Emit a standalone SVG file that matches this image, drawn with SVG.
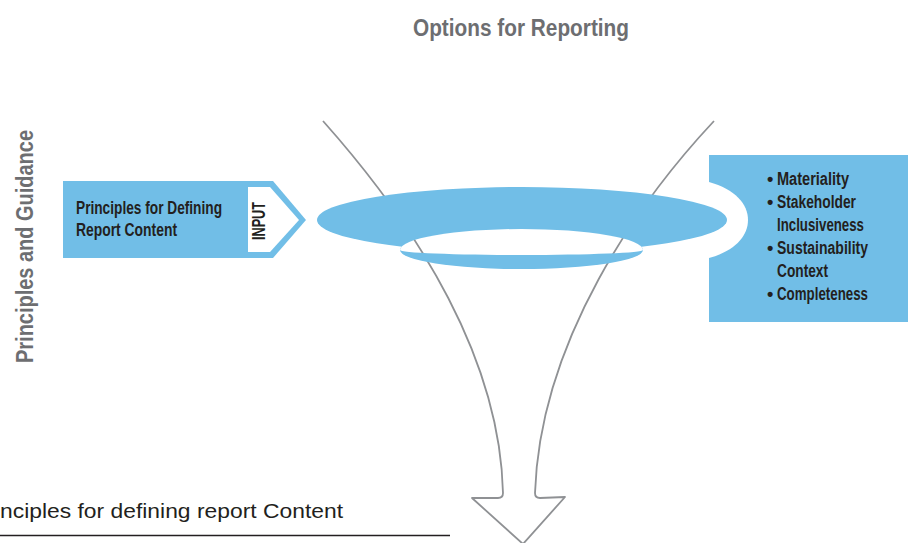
<svg xmlns="http://www.w3.org/2000/svg" width="908" height="543" viewBox="0 0 908 543">
<style>
.b{font-family:"Liberation Sans Narrow","Liberation Sans",Arial,sans-serif;font-weight:bold;fill:#231f20;font-size:18px}
.g{font-family:"Liberation Sans Narrow","Liberation Sans",Arial,sans-serif;font-weight:bold;fill:#6d6e71}
.r{font-family:"Liberation Sans",Arial,sans-serif;fill:#231f20;font-size:21px}
.blue{fill:#71bee7}
.ln{fill:none;stroke:#8f9194;stroke-width:1.8;stroke-linejoin:round}
</style>
<defs>
<mask id="hole" maskUnits="userSpaceOnUse" x="0" y="0" width="908" height="543">
<rect x="0" y="0" width="908" height="543" fill="#fff"/>
<path d="M400,250 A121.5,21 0 0 1 643,250 A121.5,5 0 0 1 400,250 Z" fill="#000"/>
</mask>
</defs>
<rect width="908" height="543" fill="#fff"/>

<g id="title">
<text class="g" x="413" y="36" font-size="24" textLength="216" lengthAdjust="spacingAndGlyphs">Options for Reporting</text>
</g>
<g id="side-label">
<text class="g" transform="translate(33,246.5) rotate(-90)" text-anchor="middle" font-size="23" textLength="233" lengthAdjust="spacingAndGlyphs">Principles and Guidance</text>
</g>

<g id="principles-box">
<rect class="blue" x="709" y="155" width="199" height="167"/>
<path d="M709,182 C735,189 748,204 748,220 C748,236 735,251 709,258 Z" fill="#fff"/>
<text class="b" x="767" y="185" font-size="15">•</text><text class="b" x="777" y="185" textLength="72" lengthAdjust="spacingAndGlyphs">Materiality</text>
<text class="b" x="767" y="208" font-size="15">•</text><text class="b" x="777" y="208" textLength="79" lengthAdjust="spacingAndGlyphs">Stakeholder</text>
<text class="b" x="777" y="231" textLength="87" lengthAdjust="spacingAndGlyphs">Inclusiveness</text>
<text class="b" x="767" y="254" font-size="15">•</text><text class="b" x="777" y="254" textLength="91" lengthAdjust="spacingAndGlyphs">Sustainability</text>
<text class="b" x="777" y="277" textLength="51" lengthAdjust="spacingAndGlyphs">Context</text>
<text class="b" x="767" y="300" font-size="15">•</text><text class="b" x="777" y="300" textLength="91" lengthAdjust="spacingAndGlyphs">Completeness</text>
</g>

<g id="connectors">
<path class="ln" d="M323,121 C420,230 500,360 503,493 Q503,498 498,498 L472,498 L523,544"/>
<path class="ln" d="M714,121 C640,200 540,340 535,493 Q535,498 540,498 L565,497 L523,544"/>
</g>

<g id="funnel" mask="url(#hole)">
<ellipse class="blue" cx="522" cy="220" rx="205" ry="33"/>
<ellipse class="blue" cx="521.5" cy="250" rx="121.5" ry="19"/>
</g>

<g id="input-box">
<path class="blue" d="M63,181 L273,181 L306,220 L273,258 L63,258 Z"/>
<path d="M248,187 L270,187 L299,220 L270,252 L248,252 Z" fill="#fff"/>
<text class="b" x="76" y="214" textLength="146" lengthAdjust="spacingAndGlyphs">Principles for Defining</text>
<text class="b" x="76" y="236" textLength="101" lengthAdjust="spacingAndGlyphs">Report Content</text>
<text class="b" transform="translate(265,221) rotate(-90)" text-anchor="middle" font-size="16" textLength="38" lengthAdjust="spacingAndGlyphs">INPUT</text>
</g>

<g id="caption">
<text class="r" x="0" y="518" textLength="343" lengthAdjust="spacingAndGlyphs">nciples for defining report Content</text>
<line x1="0" y1="535.5" x2="450" y2="535.5" stroke="#231f20" stroke-width="1.3"/>
</g>
</svg>
